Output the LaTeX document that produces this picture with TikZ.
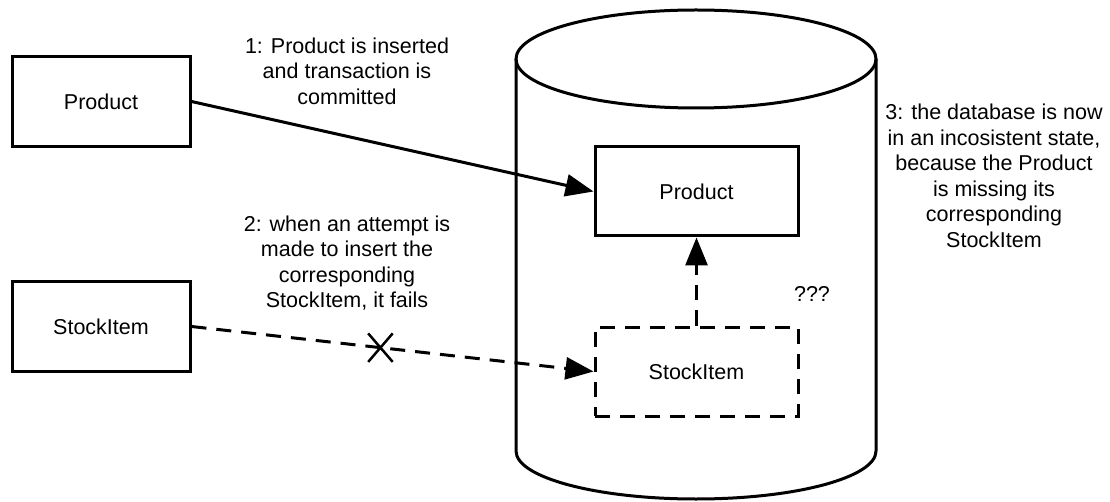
\documentclass[tikz,border=0pt]{standalone}
\usepackage{fontspec}
\setmainfont{Liberation Sans}
\usetikzlibrary{arrows.meta,shapes.misc}
\begin{document}
\begin{tikzpicture}[x=1pt,y=-1pt,
  every node/.style={font=\fontsize{21.5}{25.5}\selectfont},
  ln/.style={line width=3pt},
  entity/.style={ln,draw,rectangle,inner sep=0pt},
  small/.style={entity,minimum width=178pt,minimum height=90pt},
  inner/.style={entity,minimum width=203pt,minimum height=89pt},
  dsh/.style={dash pattern=on 15pt off 10pt},
  tip/.style={-{Triangle[length=28pt,width=22pt]}},
  note/.style={align=center,inner sep=0pt},
  failmark/.style={cross out,draw,line width=2.5pt,minimum width=22pt,minimum height=26pt,inner sep=0pt}]
  \useasboundingbox (0,0) rectangle (1110,502);

  % database cylinder
  \draw[ln,fill=white] (516,59) -- (516,451)
    arc[start angle=180,end angle=0,x radius=180,y radius=48]
    -- (876,59);
  \draw[ln] (696,59) ellipse[x radius=180,y radius=49];

  % entities
  \node[small] (pl) at (101,101.5) {Product};
  \node[small] (sl) at (101,326.5) {StockItem};
  \node[inner] (pd) at (696.5,191.5) {Product};
  \node[inner,dsh] (sd) at (696.5,371.5) {StockItem};

  % connectors
  \draw[ln,tip] (pl.east) -- (pd.west);
  \draw[ln,dsh,tip] (sl.east) -- node[failmark,pos=0.47,solid] (xm) {} (sd.west);
  \draw[ln,dsh,tip] (sd.north) -- (pd.south);

  % notes
  \node[note] (n1) at (347,71) {1: Product is inserted\\and transaction is\\committed};
  \node[note] (n2) at (347,263) {2: when an attempt is\\made to insert the\\corresponding\\StockItem, it fails};
  \node[note] (n3) at (994,176) {3: the database is now\\in an incosistent state,\\because the Product\\is missing its\\corresponding\\StockItem};
  \node[note] (q) at (812,294) {???};
\end{tikzpicture}
\end{document}
